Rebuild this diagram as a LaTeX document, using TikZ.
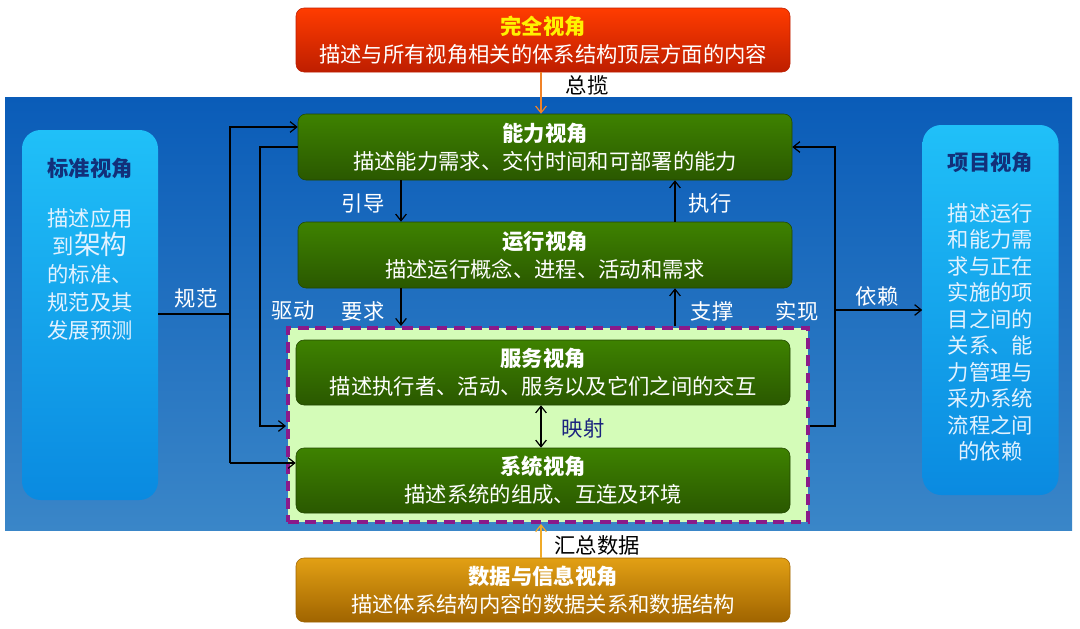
\documentclass[tikz,border=0pt]{standalone}
\usepackage{fontspec}
\setmainfont{Noto Sans CJK SC}
\usetikzlibrary{arrows.meta}
\definecolor{bgtop}{HTML}{0A5CB8}
\definecolor{bgbot}{HTML}{3A86C8}
\definecolor{gtop}{HTML}{3E8200}
\definecolor{gbot}{HTML}{2A5800}
\definecolor{sidetop}{HTML}{20C0F8}
\definecolor{sidebot}{HTML}{0A8AE0}
\definecolor{sidetitle}{HTML}{12307A}
\definecolor{sidetext}{HTML}{E2F2FF}
\definecolor{dashfill}{HTML}{D4FCB8}
\definecolor{purp}{HTML}{8A1A8A}
\definecolor{labdark}{HTML}{1A237E}
\definecolor{redtop}{HTML}{FF3C00}
\definecolor{redbot}{HTML}{BE1E00}
\definecolor{goldtop}{HTML}{E2A014}
\definecolor{goldbot}{HTML}{A06400}
\definecolor{orarr}{HTML}{F08228}
\definecolor{yarr}{HTML}{F0AA28}
\tikzset{
  gbox/.style={rounded corners=6pt,top color=gtop,bottom color=gbot,draw=gbot!80!black,minimum width=370.5pt,minimum height=49.5pt,align=center,text=white,font=\fontsize{16}{21}\selectfont,inner sep=0pt},
  side/.style={rounded corners=14pt,top color=sidetop,bottom color=sidebot,minimum width=102pt,minimum height=277.5pt,inner sep=0pt},
  arr/.style={-{Straight Barb[length=5pt,width=8pt]},line width=0.9pt,black},
  lab/.style={text=white,font=\fontsize{16}{20}\selectfont,inner sep=0pt},
}
\begin{document}
\begin{tikzpicture}[x=0.75pt,y=-0.75pt]
\useasboundingbox (0,0) rectangle (1080,628);
\fill[white] (0,0) rectangle (1080,628);
\path[top color=bgtop,bottom color=bgbot] (5,97) rectangle (1072,530);
% side boxes
\node[side] (std) at (90,315) {};
\node[text=sidetitle,font=\bfseries\fontsize{16}{20}\selectfont] (stdt) at (90,168) {标准视角};
\node[text=sidetext,align=center,font=\fontsize{16}{21}\selectfont] (stdb) at (90,274) {描述应用\\到{\fontsize{20}{21}\selectfont 架构}\\的标准、\\规范及其\\发展预测};
\node[side] (prj) at (990.5,310) {};
\node[text=sidetitle,font=\bfseries\fontsize{16}{20}\selectfont] (prjt) at (990.5,162) {项目视角};
\node[text=sidetext,align=center,font=\fontsize{16}{19.9}\selectfont] (prjb) at (990.5,332.5) {描述运行\\和能力需\\求与正在\\实施的项\\目之间的\\关系、能\\力管理与\\采办系统\\流程之间\\的依赖};
% dashed region
\node[draw=purp,fill=dashfill,line width=3pt,dash pattern=on 8pt off 5pt,minimum width=390pt,minimum height=145.5pt] (dash) at (548,425) {};
% top and bottom boxes
\node[gbox,top color=redtop,bottom color=redbot,draw=redbot,minimum height=48pt] (full) at (543,40) {{\bfseries\color{yellow}完全视角}\\描述与所有视角相关的体系结构顶层方面的内容};
\node[gbox,top color=goldtop,bottom color=goldbot,draw=goldbot,minimum height=48pt] (data) at (543,590) {{\bfseries 数据与信息视角}\\描述体系结构内容的数据关系和数据结构};
% green boxes
\node[gbox] (cap) at (545,147) {{\bfseries 能力视角}\\描述能力需求、交付时间和可部署的能力};
\node[gbox] (ops) at (545,255) {{\bfseries 运行视角}\\描述运行概念、进程、活动和需求};
\node[gbox,minimum height=48.75pt] (svc) at (543,372.5) {{\bfseries 服务视角}\\描述执行者、活动、服务以及它们之间的交互};
\node[gbox,minimum height=48.75pt] (sys) at (543,480.5) {{\bfseries 系统视角}\\描述系统的组成、互连及环境};
% connectors
\draw[arr,orarr] (full.south -| 541,0) -- (cap.north -| 541,0);
\node[font=\fontsize{16}{20}\selectfont,inner sep=0pt] (zl) at (587,85) {总揽};
\coordinate (gf) at (230,314);
\draw[line width=0.9pt] (std.east |- gf) -- (gf);
\draw[arr] (230,463) -- (230,127) -- (cap.west |- 0,127);
\draw[arr] (230,463) -- (sys.west |- 0,463);
\node[lab] (gfl) at (196,298) {规范};
\draw[arr] (cap.west |- 0,147) -- (260,147) -- (260,426) -- (dash.west |- 0,426);
\node[lab] (qd) at (293,311) {驱动};
\draw[arr] (cap.south -| 401,0) -- (ops.north -| 401,0);
\node[lab] (yd) at (363,203) {引导};
\draw[arr] (ops.south -| 401,0) -- (dash.north -| 401,0);
\node[lab] (yq) at (363,311) {要求};
\draw[arr] (ops.north -| 675,0) -- (cap.south -| 675,0);
\node[lab] (zx) at (710,203) {执行};
\draw[arr] (dash.north -| 675,0) -- (ops.south -| 675,0);
\node[lab] (zc) at (712,311) {支撑};
\draw[arr] (dash.east |- 0,426) -- (835,426) -- (835,147) -- (cap.east |- 0,147);
\node[lab] (sx) at (797,311) {实现};
\draw[arr] (835,310) -- (prj.west |- 0,310);
\node[lab] (yl) at (877,296) {依赖};
\draw[arr,{Straight Barb[length=5pt,width=8pt]}-{Straight Barb[length=5pt,width=8pt]}] (svc.south -| 541,0) -- (sys.north -| 541,0);
\node[text=labdark,font=\fontsize{16}{20}\selectfont,inner sep=0pt] (ys) at (583,428) {映射};
\draw[arr,yarr] (data.north -| 541,0) -- (dash.south -| 541,0);
\node[text=black,font=\fontsize{16}{20}\selectfont,inner sep=0pt] (hz) at (597,545) {汇总数据};
\end{tikzpicture}
\end{document}
